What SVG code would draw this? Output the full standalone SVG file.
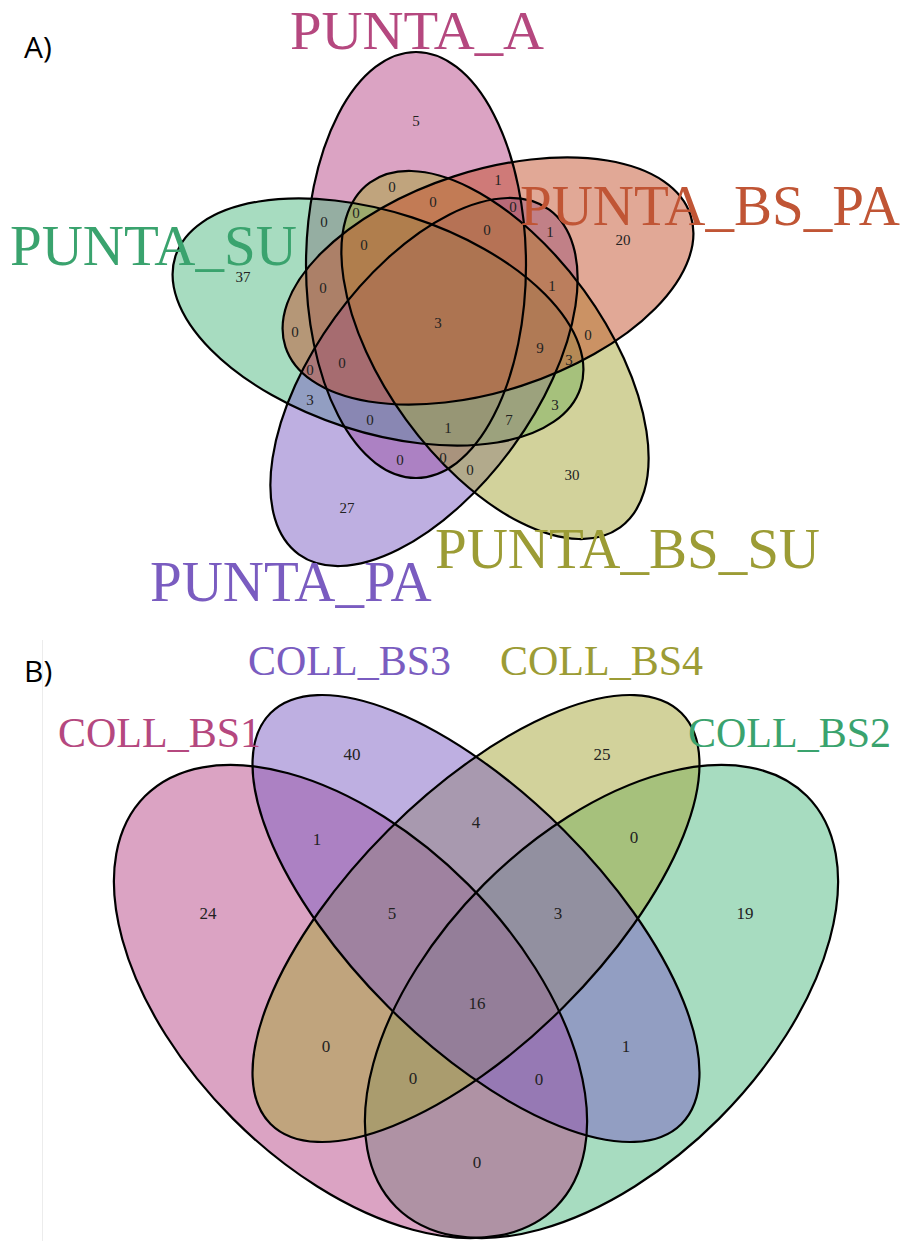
<svg xmlns="http://www.w3.org/2000/svg" xmlns:xlink="http://www.w3.org/1999/xlink" width="907" height="1241" viewBox="0 0 907 1241">
<style>
  .fill { fill-opacity: 0.5; stroke: none; }
  .line { fill: none; stroke: #000; stroke-width: 2.2; }
  .lab { font-family: "Liberation Serif", "Times New Roman", serif; }
  .big { font-size: 57px; }
  .mid { font-size: 42px; }
  .n { font-family: "Liberation Serif", "Times New Roman", serif; font-size: 15px; fill: #222; text-anchor: middle; }
  .n2 { font-family: "Liberation Serif", "Times New Roman", serif; font-size: 17px; fill: #222; text-anchor: middle; }
  .panel { font-family: "Open Sans", "Liberation Sans", sans-serif; font-size: 30px; fill: #000; }
  .c-pink { fill: #b74787; } .c-green { fill: #4fb981; } .c-orange { fill: #c3512d; }
  .c-olive { fill: #a5a537; } .c-purple { fill: #7d5fc3; }
</style>
<defs>
  <ellipse id="eA" cx="416" cy="265" rx="213" ry="110" transform="rotate(90 416 265)"/>
  <ellipse id="eSU" cx="378" cy="322" rx="213" ry="110" transform="rotate(18 378 322)"/>
  <ellipse id="ePA" cx="424" cy="382" rx="213" ry="110" transform="rotate(126 424 382)"/>
  <ellipse id="eBSSU" cx="495" cy="355" rx="213" ry="110" transform="rotate(54 495 355)"/>
  <ellipse id="eBSPA" cx="488" cy="281" rx="213" ry="110" transform="rotate(-18 488 281)"/>
  <ellipse id="eB1" cx="350.5" cy="1001.5" rx="290.5" ry="166" transform="rotate(45 350.5 1001.5)"/>
  <ellipse id="eB2" cx="601.5" cy="1001.5" rx="290.5" ry="166" transform="rotate(-45 601.5 1001.5)"/>
  <ellipse id="eB3" cx="476" cy="918.5" rx="290.5" ry="124.5" transform="rotate(45 476 918.5)"/>
  <ellipse id="eB4" cx="476" cy="918.5" rx="290.5" ry="124.5" transform="rotate(-45 476 918.5)"/>
</defs>
<rect x="0" y="0" width="907" height="1241" fill="#fff"/>
<line x1="42.5" y1="640" x2="42.5" y2="1241" stroke="#ececec" stroke-width="1"/>

<!-- Panel A -->
<text class="panel" x="24" y="58">A)</text>
<g id="set-PUNTA_A"><use xlink:href="#eA" class="fill c-pink"/></g>
<g id="set-PUNTA_SU"><use xlink:href="#eSU" class="fill c-green"/></g>
<g id="set-PUNTA_PA"><use xlink:href="#ePA" class="fill c-purple"/></g>
<g id="set-PUNTA_BS_SU"><use xlink:href="#eBSSU" class="fill c-olive"/></g>
<g id="set-PUNTA_BS_PA"><use xlink:href="#eBSPA" class="fill c-orange"/></g>
<g id="outlines-A">
  <use xlink:href="#eA" class="line"/>
  <use xlink:href="#eSU" class="line"/>
  <use xlink:href="#ePA" class="line"/>
  <use xlink:href="#eBSSU" class="line"/>
  <use xlink:href="#eBSPA" class="line"/>
</g>
<g id="labels-A" class="lab big">
  <text x="290" y="49" font-size="54" textLength="254" lengthAdjust="spacingAndGlyphs" fill="#b5487f">PUNTA_A</text>
  <text x="520" y="225" fill="#c05535">PUNTA_BS_PA</text>
  <text x="10" y="265" fill="#3aa36e">PUNTA_SU</text>
  <text x="435" y="568" fill="#9c9c35">PUNTA_BS_SU</text>
  <text x="150" y="601" fill="#7a5cc0">PUNTA_PA</text>
</g>
<g id="counts-A" class="n">
  <text x="416" y="126">5</text>
  <text x="498" y="185">1</text>
  <text x="392" y="192">0</text>
  <text x="433" y="207">0</text>
  <text x="513" y="212">0</text>
  <text x="356" y="218">0</text>
  <text x="324" y="227">0</text>
  <text x="487" y="235">0</text>
  <text x="550" y="237">1</text>
  <text x="364" y="250">0</text>
  <text x="623" y="245">20</text>
  <text x="243" y="282">37</text>
  <text x="552" y="291">1</text>
  <text x="323" y="293">0</text>
  <text x="438" y="328">3</text>
  <text x="295" y="337">0</text>
  <text x="588" y="340">0</text>
  <text x="540" y="353">9</text>
  <text x="342" y="368">0</text>
  <text x="569" y="365">3</text>
  <text x="310" y="375">0</text>
  <text x="310" y="405">3</text>
  <text x="555" y="410">3</text>
  <text x="370" y="425">0</text>
  <text x="509" y="425">7</text>
  <text x="448" y="433">1</text>
  <text x="400" y="465">0</text>
  <text x="443" y="463">0</text>
  <text x="470" y="475">0</text>
  <text x="572" y="480">30</text>
  <text x="347" y="513">27</text>
</g>

<!-- Panel B -->
<text class="panel" x="24" y="682">B)</text>
<g id="set-COLL_BS2"><use xlink:href="#eB2" class="fill c-green"/></g>
<g id="set-COLL_BS1"><use xlink:href="#eB1" class="fill c-pink"/></g>
<g id="set-COLL_BS4"><use xlink:href="#eB4" class="fill c-olive"/></g>
<g id="set-COLL_BS3"><use xlink:href="#eB3" class="fill c-purple"/></g>
<g id="outlines-B">
  <use xlink:href="#eB1" class="line"/>
  <use xlink:href="#eB2" class="line"/>
  <use xlink:href="#eB3" class="line"/>
  <use xlink:href="#eB4" class="line"/>
</g>
<g id="labels-B" class="lab mid">
  <text x="248" y="675" fill="#7a5cc0">COLL_BS3</text>
  <text x="500" y="675" fill="#9c9c35">COLL_BS4</text>
  <text x="58" y="747" fill="#b5487f">COLL_BS1</text>
  <text x="688" y="747" fill="#3aa36e">COLL_BS2</text>
</g>
<g id="counts-B" class="n2">
  <text x="352" y="760">40</text>
  <text x="602" y="760">25</text>
  <text x="317" y="845">1</text>
  <text x="476" y="828">4</text>
  <text x="634" y="843">0</text>
  <text x="208" y="919">24</text>
  <text x="392" y="919">5</text>
  <text x="558" y="919">3</text>
  <text x="745" y="919">19</text>
  <text x="477" y="1009">16</text>
  <text x="326" y="1052">0</text>
  <text x="626" y="1052">1</text>
  <text x="413" y="1084">0</text>
  <text x="539" y="1085">0</text>
  <text x="477" y="1168">0</text>
</g>
</svg>
